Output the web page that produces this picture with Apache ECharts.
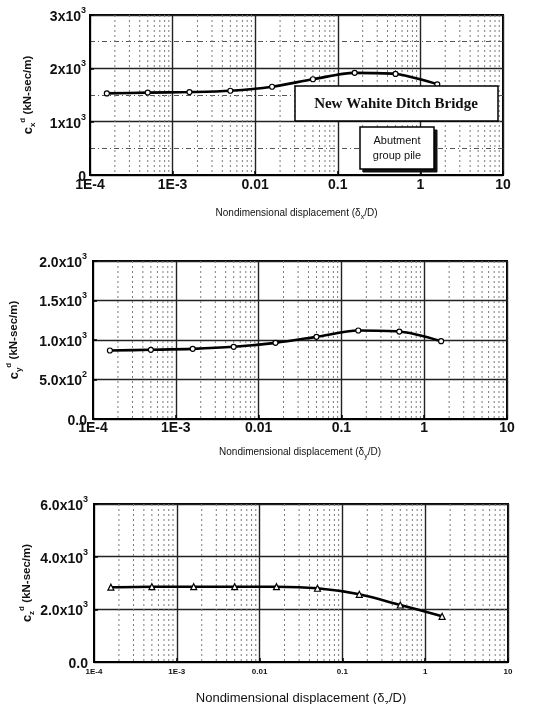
<!DOCTYPE html>
<html>
<head>
<meta charset="utf-8">
<script src="https://cdn.jsdelivr.net/npm/echarts@6/dist/echarts.min.js"></script>
<style>html,body{margin:0;padding:0;background:#fff;}#c{width:546px;height:704px;}</style>
</head>
<body>
<div id="c"></div>
<script>
// ---- data ----
const xVals = [1.6e-4, 5e-4, 1.6e-3, 5e-3, 1.6e-2, 5e-2, 0.16, 0.5, 1.6];
const cxVals = [1530, 1545, 1555, 1580, 1655, 1795, 1915, 1895, 1700];
const cyVals = [867, 876, 888, 914, 964, 1040, 1120, 1107, 985];
const czVals = [2840, 2860, 2860, 2860, 2860, 2800, 2570, 2165, 1735];

const xTickExp = [-4, -3, -2, -1, 0, 1];
const xTickText = ['1E-4', '1E-3', '0.01', '0.1', '1', '10'];

const yTicksX = [0, 1000, 2000, 3000];
const yTextX = [['0', ''], ['1x10', '3'], ['2x10', '3'], ['3x10', '3']];
const yTicksY = [0, 500, 1000, 1500, 2000];
const yTextY = [['0.0', ''], ['5.0x10', '2'], ['1.0x10', '3'], ['1.5x10', '3'], ['2.0x10', '3']];
const yTicksZ = [0, 2000, 4000, 6000];
const yTextZ = [['0.0', ''], ['2.0x10', '3'], ['4.0x10', '3'], ['6.0x10', '3']];

// minor vertical gridlines (2..9 in each decade)
const minorMult = [2, 3, 4, 5, 6, 7, 8, 9];
const minorDecades = [1e-4, 1e-3, 1e-2, 1e-1, 1];
const minorX = [];
minorDecades.forEach(d => minorMult.forEach(m => minorX.push(+(m * d).toPrecision(3))));

const FONT = 'Liberation Sans, Arial, sans-serif';

function xLabelFmt(v) {
  const e = Math.round(Math.log10(v));
  const i = xTickExp.indexOf(e);
  return i >= 0 ? xTickText[i] : '';
}
function yFmt(ticks, texts) {
  return function (v) {
    const i = ticks.indexOf(Math.round(v));
    if (i < 0) return '';
    const t = texts[i];
    return t[1] ? '{m|' + t[0] + '}{s|' + t[1] + '}' : '{m|' + t[0] + '}';
  };
}
const yRich = {
  m: { fontSize: 14, fontWeight: 'bold', fontFamily: FONT, color: '#111', lineHeight: 18, verticalAlign: 'bottom' },
  s: { fontSize: 9, fontWeight: 'bold', fontFamily: FONT, color: '#111', lineHeight: 18, verticalAlign: 'top' }
};
function yName(sub) {
  return '{c|c}{sub|' + sub + '}{sup|d} {u|(kN-sec/m)}';
}
const nameRich = {
  c: { fontSize: 13, fontFamily: FONT, color: '#111', fontWeight: 'bold', lineHeight: 18, verticalAlign: 'middle' },
  sub: { fontSize: 8, fontFamily: FONT, color: '#111', fontWeight: 'bold', lineHeight: 18, verticalAlign: 'bottom' },
  sup: { fontSize: 8, fontFamily: FONT, color: '#111', fontWeight: 'bold', lineHeight: 18, verticalAlign: 'top' },
  u: { fontSize: 11.5, fontFamily: FONT, color: '#111', fontWeight: 'bold', lineHeight: 18, verticalAlign: 'middle' }
};
function xName(sub) {
  return '{t|Nondimensional displacement (δ}{b|' + sub + '}{t|/D)}';
}
function xNameRich(size) {
  return {
    t: { fontSize: size, fontFamily: FONT, color: '#111', lineHeight: size + 6, verticalAlign: 'middle' },
    b: { fontSize: Math.round(size * 0.7), fontFamily: FONT, color: '#111', lineHeight: size + 6, verticalAlign: 'bottom' }
  };
}

const grids = [
  { left: 90, top: 15, width: 413, height: 160 },
  { left: 93, top: 261, width: 414, height: 158 },
  { left: 94, top: 504, width: 414, height: 158 }
];

const xAxisBase = (idx, labelSize, nameSize, sub, nameGap, labelMargin) => ({
  type: 'log', gridIndex: idx, logBase: 10, min: 1e-4, max: 10, interval: 1,
  axisLine: { show: true, lineStyle: { color: '#000', width: 2 } },
  axisTick: { show: true, inside: true, length: 4, lineStyle: { color: '#000', width: 1.5 } },
  axisLabel: { formatter: xLabelFmt, fontSize: labelSize, fontWeight: 'bold', fontFamily: FONT, color: '#111', margin: labelMargin },
  splitLine: { show: true, lineStyle: { color: '#222', width: 1.4 } },
  name: xName(sub), nameLocation: 'middle', nameGap: nameGap, nameMoveOverlap: false,
  nameTextStyle: { rich: xNameRich(nameSize) }
});

const yAxisBase = (idx, max, interval, ticks, texts, sub, nameGap, minor, margin) => ({
  type: 'value', gridIndex: idx, min: 0, max: max, interval: interval,
  axisLine: { show: true, lineStyle: { color: '#000', width: 2 } },
  axisTick: { show: true, inside: true, length: 4, lineStyle: { color: '#000', width: 1.5 } },
  axisLabel: { formatter: yFmt(ticks, texts), rich: yRich, margin: margin },
  splitLine: { show: true, lineStyle: { color: '#222', width: 1.4 } },
  minorTick: { show: false, splitNumber: 2 },
  minorSplitLine: { show: !!minor, lineStyle: { color: '#555', width: 1, type: [5, 3, 1, 3] } },
  name: yName(sub), nameLocation: 'middle', nameGap: nameGap, nameRotate: 90, nameMoveOverlap: false,
  nameTextStyle: { rich: nameRich }
});

function gridSeries(idx) {
  return {
    type: 'custom', xAxisIndex: idx, yAxisIndex: idx, z: 1, silent: true,
    data: minorX.map(v => [v, 0]),
    encode: { x: 0, y: 1 },
    renderItem: function (params, api) {
      const cs = params.coordSys;
      const p = api.coord([api.value(0), 0]);
      return {
        type: 'line',
        shape: { x1: p[0], y1: cs.y, x2: p[0], y2: cs.y + cs.height },
        style: { stroke: '#7a7a7a', lineWidth: 1, lineDash: [2, 3] }
      };
    }
  };
}
function dataSeries(idx, vals, sym, size) {
  return {
    type: 'line', xAxisIndex: idx, yAxisIndex: idx, z: 5,
    data: xVals.map((x, i) => [x, vals[i]]),
    smooth: 0.3, symbol: sym, symbolSize: size, showSymbol: true,
    lineStyle: { color: '#000', width: 2.6 },
    itemStyle: { color: '#fff', borderColor: '#000', borderWidth: 1.2 }
  };
}

const option = {
  animation: false,
  backgroundColor: '#fff',
  grid: grids.map(g => Object.assign({ show: true, borderColor: '#000', borderWidth: 2, backgroundColor: 'transparent', containLabel: false, outerBoundsMode: 'none' }, g)),
  xAxis: [
    xAxisBase(0, 14, 10, 'x', 30, 3),
    xAxisBase(1, 14, 10, 'y', 25, 2),
    xAxisBase(2, 8, 13, 'z', 27, 6)
  ],
  yAxis: [
    yAxisBase(0, 3000, 1000, yTicksX, yTextX, 'x', 53, true, 4),
    yAxisBase(1, 2000, 500, yTicksY, yTextY, 'y', 70, false, 6),
    yAxisBase(2, 6000, 2000, yTicksZ, yTextZ, 'z', 58, false, 6)
  ],
  series: [
    gridSeries(0), gridSeries(1), gridSeries(2),
    dataSeries(0, cxVals, 'circle', 5),
    dataSeries(1, cyVals, 'circle', 5),
    dataSeries(2, czVals, 'triangle', 6)
  ],
  graphic: [
    { type: 'rect', z: 100, shape: { x: 295, y: 86, width: 203, height: 35 },
      style: { fill: '#fff', stroke: '#000', lineWidth: 1.5 } },
    { type: 'text', z: 101, x: 396, y: 104,
      style: { text: 'New Wahite Ditch Bridge', font: 'bold 15px "Liberation Serif", "Times New Roman", serif', fill: '#111', align: 'center', verticalAlign: 'middle' } },
    { type: 'rect', z: 100, shape: { x: 363, y: 130, width: 74, height: 42 },
      style: { fill: '#111', stroke: '#111', lineWidth: 1 } },
    { type: 'rect', z: 101, shape: { x: 360, y: 127, width: 74, height: 42 },
      style: { fill: '#fff', stroke: '#000', lineWidth: 1.5 } },
    { type: 'text', z: 102, x: 397, y: 148,
      style: { text: 'Abutment\ngroup pile', font: '11px "Liberation Sans", Arial, sans-serif', fill: '#111', align: 'center', verticalAlign: 'middle', lineHeight: 15 } }
  ]
};

const chart = echarts.init(document.getElementById('c'), null, { renderer: 'canvas' });
chart.setOption(option);
</script>
</body>
</html>
